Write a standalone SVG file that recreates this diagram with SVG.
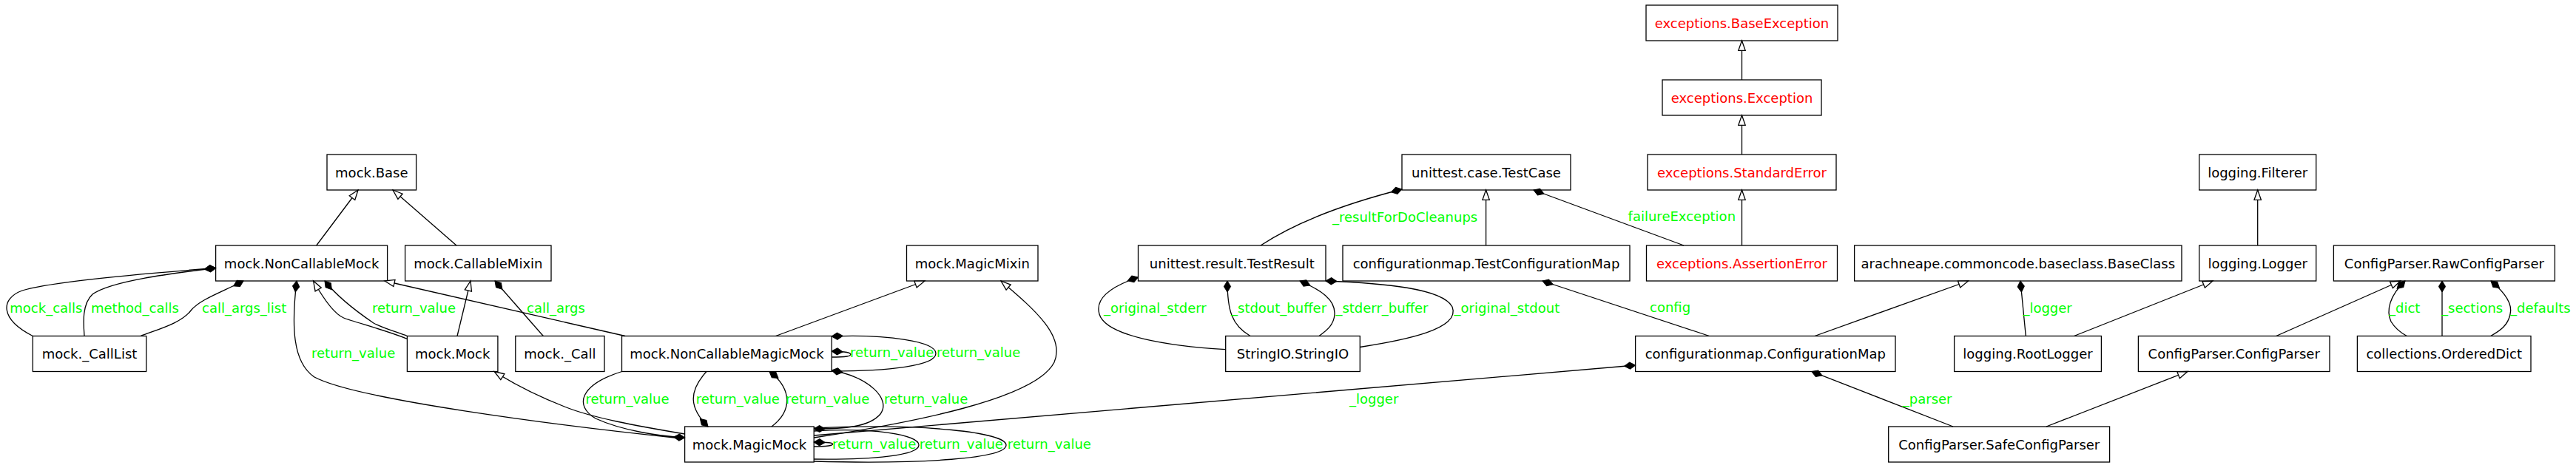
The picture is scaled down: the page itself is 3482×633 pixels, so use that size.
<svg xmlns="http://www.w3.org/2000/svg" width="3482" height="633" viewBox="0 0 3482 633">
<style>
.node rect{fill:#fff;stroke:#000;stroke-width:1.3}
.node text{font-family:"DejaVu Sans",sans-serif;font-size:18px;fill:#000;text-anchor:middle}
.node.exc text{fill:#ff0000}
.e{fill:none;stroke:#000;stroke-width:1.3}
.inh{marker-end:url(#tri)}
.lbl{font-family:"DejaVu Sans",sans-serif;font-size:18px;fill:#00ff00}
</style>
<defs>
<marker id="dS" markerUnits="userSpaceOnUse" markerWidth="20" markerHeight="12" refX="0" refY="0" orient="auto" overflow="visible"><path d="M0,0 L7.5,-4.6 L15,0 L7.5,4.6 Z" fill="#000" stroke="#000" stroke-width="1"/></marker>
<marker id="dE" markerUnits="userSpaceOnUse" markerWidth="20" markerHeight="12" refX="0" refY="0" orient="auto" overflow="visible"><path d="M0,0 L-7.5,-4.6 L-15,0 L-7.5,4.6 Z" fill="#000" stroke="#000" stroke-width="1"/></marker>
<marker id="tri" markerUnits="userSpaceOnUse" markerWidth="20" markerHeight="12" refX="0" refY="0" orient="auto" overflow="visible"><path d="M0,0 L-13.3,-4.7 L-13.3,4.7 Z" fill="#fff" stroke="#000" stroke-width="1.3"/></marker>
</defs>
<rect x="0" y="0" width="3482" height="633" fill="#fff"/>

<g id="n-mock-Base" class="node"><rect x="442" y="209" width="120.6" height="48"/><text x="502.3" y="239.5">mock.Base</text></g>
<g id="n-BaseException" class="node exc"><rect x="2225" y="7" width="259" height="48"/><text x="2354.5" y="37.5">exceptions.BaseException</text></g>
<g id="n-Exception" class="node exc"><rect x="2247" y="108" width="215" height="48"/><text x="2354.5" y="138.5">exceptions.Exception</text></g>
<g id="n-StandardError" class="node exc"><rect x="2227" y="209" width="255" height="48"/><text x="2354.5" y="239.5">exceptions.StandardError</text></g>
<g id="n-AssertionError" class="node exc"><rect x="2225.5" y="332" width="258" height="48"/><text x="2354.5" y="362.5">exceptions.AssertionError</text></g>
<g id="n-TestCase" class="node"><rect x="1895" y="209" width="228" height="48"/><text x="2009" y="239.5">unittest.case.TestCase</text></g>
<g id="n-Filterer" class="node"><rect x="2972.7" y="209" width="158" height="48"/><text x="3051.7" y="239.5">logging.Filterer</text></g>
<g id="n-NonCallableMock" class="node"><rect x="291.6" y="332" width="232" height="48"/><text x="407.6" y="362.5">mock.NonCallableMock</text></g>
<g id="n-CallableMixin" class="node"><rect x="547.6" y="332" width="197.4" height="48"/><text x="646.3" y="362.5">mock.CallableMixin</text></g>
<g id="n-MagicMixin" class="node"><rect x="1225.5" y="332" width="177.5" height="48"/><text x="1314.3" y="362.5">mock.MagicMixin</text></g>
<g id="n-TestResult" class="node"><rect x="1538.5" y="332" width="253.5" height="48"/><text x="1665.3" y="362.5">unittest.result.TestResult</text></g>
<g id="n-TestConfigurationMap" class="node"><rect x="1815" y="332" width="388" height="48"/><text x="2009" y="362.5">configurationmap.TestConfigurationMap</text></g>
<g id="n-BaseClass" class="node"><rect x="2506.6" y="332" width="442.4" height="48"/><text x="2727.8" y="362.5">arachneape.commoncode.baseclass.BaseClass</text></g>
<g id="n-Logger" class="node"><rect x="2972.7" y="332" width="158" height="48"/><text x="3051.7" y="362.5">logging.Logger</text></g>
<g id="n-RawConfigParser" class="node"><rect x="3154.4" y="332" width="299" height="48"/><text x="3303.9" y="362.5">ConfigParser.RawConfigParser</text></g>
<g id="n-CallList" class="node"><rect x="44.3" y="454.5" width="153.4" height="48"/><text x="121" y="485">mock._CallList</text></g>
<g id="n-Mock" class="node"><rect x="550.4" y="454.5" width="122.5" height="48"/><text x="611.7" y="485">mock.Mock</text></g>
<g id="n-Call" class="node"><rect x="696.8" y="454.5" width="120.2" height="48"/><text x="756.9" y="485">mock._Call</text></g>
<g id="n-NonCallableMagicMock" class="node"><rect x="840.5" y="454.5" width="283.7" height="48"/><text x="982.4" y="485">mock.NonCallableMagicMock</text></g>
<g id="n-StringIO" class="node"><rect x="1656.7" y="454.5" width="181.6" height="48"/><text x="1747.5" y="485">StringIO.StringIO</text></g>
<g id="n-ConfigurationMap" class="node"><rect x="2210.6" y="454.5" width="351.4" height="48"/><text x="2386.3" y="485">configurationmap.ConfigurationMap</text></g>
<g id="n-RootLogger" class="node"><rect x="2641.6" y="454.5" width="198.8" height="48"/><text x="2741" y="485">logging.RootLogger</text></g>
<g id="n-ConfigParser" class="node"><rect x="2890.4" y="454.5" width="258.6" height="48"/><text x="3019.7" y="485">ConfigParser.ConfigParser</text></g>
<g id="n-OrderedDict" class="node"><rect x="3186.4" y="454.5" width="234.6" height="48"/><text x="3303.7" y="485">collections.OrderedDict</text></g>
<g id="n-MagicMock" class="node"><rect x="925.6" y="577" width="174.6" height="48"/><text x="1012.9" y="607.5">mock.MagicMock</text></g>
<g id="n-SafeConfigParser" class="node"><rect x="2552.7" y="577" width="298.9" height="48"/><text x="2702.2" y="607.5">ConfigParser.SafeConfigParser</text></g>

<g id="connectors">
<!-- inheritance -->
<path class="e inh" d="M427.7,332 L484,257"/>
<path class="e inh" d="M617,332 L531,257"/>
<path class="e inh" d="M618,454.5 L636,380"/>
<path class="e inh" d="M550.4,458.3 C520,446 480,436 464.6,430 C450,424 435,400 423.6,380"/>
<path class="e inh" d="M845,454.5 L520,380"/>
<path class="e inh" d="M1048.5,454.5 L1250,380"/>
<path class="e inh" d="M1100.2,592 C1230,572 1400,540 1425,490 C1440,455 1400,420 1353,380"/>
<path class="e inh" d="M925.6,587 C860,576 800,565 763,550 C730,537 700,523 668.2,502.5"/>
<path class="e inh" d="M2008.6,332 L2008.6,257"/>
<path class="e inh" d="M2354.5,332 L2354.5,257"/>
<path class="e inh" d="M2354.5,209 L2354.5,156"/>
<path class="e inh" d="M2354.5,108 L2354.5,55"/>
<path class="e inh" d="M2453,454.5 L2660.6,380"/>
<path class="e inh" d="M2803.5,454.5 L2991,380"/>
<path class="e inh" d="M3051.7,332 L3051.7,257"/>
<path class="e inh" d="M3076.7,454.5 L3244.6,380"/>
<path class="e inh" d="M2766,577 L2957,502.5"/>

<!-- composition -->
<path class="e" marker-start="url(#dS)" d="M291.6,362.5 C220,368 70,380 30,393 C0,404 0,432 44.3,454.5"/>
<path class="e" marker-start="url(#dS)" d="M291.6,362.5 C230,370 150,380 125,398 C110,412 113,440 114,454.5"/>
<path class="e" marker-start="url(#dS)" d="M329,380 C300,395 270,405 258,420 C245,437 215,445 190,454.5"/>
<path class="e" marker-start="url(#dS)" d="M401,380 C394,440 395,490 425,510 C480,540 750,575 912,592"/>
<path class="e" marker-start="url(#dS)" d="M439,380 C455,400 480,420 505,437 C520,445 540,450 550.4,454.5"/>
<path class="e" marker-start="url(#dS)" d="M669,380 L734.3,454.5"/>
<path class="e" marker-end="url(#dE)" d="M840.6,502.5 C785,520 775,548 805,566 C840,582 890,590 925.6,592"/>
<path class="e" marker-end="url(#dE)" d="M955,502.5 C930,530 932,552 957,577"/>
<path class="e" marker-start="url(#dS)" d="M1040,502.5 C1070,525 1072,555 1043,577"/>
<path class="e" marker-start="url(#dS)" marker-end="url(#dE)" d="M1124.2,501 C1175,510 1205,540 1190,560 C1175,578 1140,580 1100.2,580"/>
<path class="e" marker-start="url(#dS)" d="M1124.2,455 C1200,452 1265,462 1265,478 C1265,495 1200,502 1124.2,502"/>
<path class="e" marker-start="url(#dS)" d="M1124.2,475 L1141,476 C1152,477 1152,481 1145,482 C1138,483 1130,483 1124.2,483"/>
<path class="e" marker-start="url(#dS)" d="M1100.2,598 L1117,598.5 C1128,599 1128,602 1120,603 C1112,604 1105,604 1100.2,604"/>
<path class="e" d="M1100.2,583 C1180,578 1242,588 1242,602 C1242,616 1180,622 1100.2,621"/>
<path class="e" d="M1100.2,579 C1250,572 1360,585 1360,602 C1360,620 1250,628 1100.2,624"/>
<path class="e" marker-start="url(#dS)" d="M2210.6,494 L1100.2,589"/>
<path class="e" marker-start="url(#dS)" d="M1895,256 C1840,270 1760,295 1704,332"/>
<path class="e" marker-start="url(#dS)" d="M1538.5,375 C1500,388 1480,405 1486,425 C1495,455 1580,468 1656.7,472.7"/>
<path class="e" marker-start="url(#dS)" d="M1659,380 C1659,420 1665,440 1690,454.5"/>
<path class="e" marker-start="url(#dS)" d="M1757,380 C1785,392 1805,405 1804,425 C1803,440 1793,447 1783,454.5"/>
<path class="e" marker-start="url(#dS)" d="M1792,380 C1870,383 1950,390 1963,415 C1975,445 1900,460 1838.3,469.5"/>
<path class="e" marker-start="url(#dS)" d="M2085,380 L2310.5,454.5"/>
<path class="e" marker-start="url(#dS)" d="M2073,257 L2276,332"/>
<path class="e" marker-start="url(#dS)" d="M2449,502.5 L2640,577"/>
<path class="e" marker-start="url(#dS)" d="M2731,380 L2738.3,454.5"/>
<path class="e" marker-start="url(#dS)" d="M3251,380 C3230,400 3225,420 3232,435 C3238,445 3245,450 3253.3,454.5"/>
<path class="e" marker-start="url(#dS)" d="M3301,380 L3301,454.5"/>
<path class="e" marker-start="url(#dS)" d="M3367,380 C3385,395 3397,410 3393,425 C3390,440 3380,447 3366.7,454.5"/>

<!-- labels -->
<text class="lbl" x="13.3" y="422.5">mock_calls</text>
<text class="lbl" x="123" y="422.5">method_calls</text>
<text class="lbl" x="273" y="422.5">call_args_list</text>
<text class="lbl" x="502.9" y="422.5">return_value</text>
<text class="lbl" x="712" y="422.5">call_args</text>
<text class="lbl" x="421" y="483.8">return_value</text>
<text class="lbl" x="791.4" y="545.5">return_value</text>
<text class="lbl" x="940.7" y="545.5">return_value</text>
<text class="lbl" x="1062" y="545.5">return_value</text>
<text class="lbl" x="1195" y="545.5">return_value</text>
<text class="lbl" x="1149" y="483.2">return_value</text>
<text class="lbl" x="1266" y="483.2">return_value</text>
<text class="lbl" x="1125" y="606.5">return_value</text>
<text class="lbl" x="1242.7" y="606.5">return_value</text>
<text class="lbl" x="1361.7" y="606.5">return_value</text>
<text class="lbl" x="1824" y="545.8">_logger</text>
<text class="lbl" x="1801" y="299.5">_resultForDoCleanups</text>
<text class="lbl" x="2200.6" y="299.2">failureException</text>
<text class="lbl" x="1492" y="422.5">_original_stderr</text>
<text class="lbl" x="1664" y="422.5">_stdout_buffer</text>
<text class="lbl" x="1805.4" y="422.5">_stderr_buffer</text>
<text class="lbl" x="1965.6" y="422.5">_original_stdout</text>
<text class="lbl" x="2230" y="422.3">config</text>
<text class="lbl" x="2734.4" y="422.5">_logger</text>
<text class="lbl" x="2571.8" y="545.8">_parser</text>
<text class="lbl" x="3229" y="422.5">_dict</text>
<text class="lbl" x="3300" y="422.5">_sections</text>
<text class="lbl" x="3393" y="422.5">_defaults</text>
</g>
</svg>
